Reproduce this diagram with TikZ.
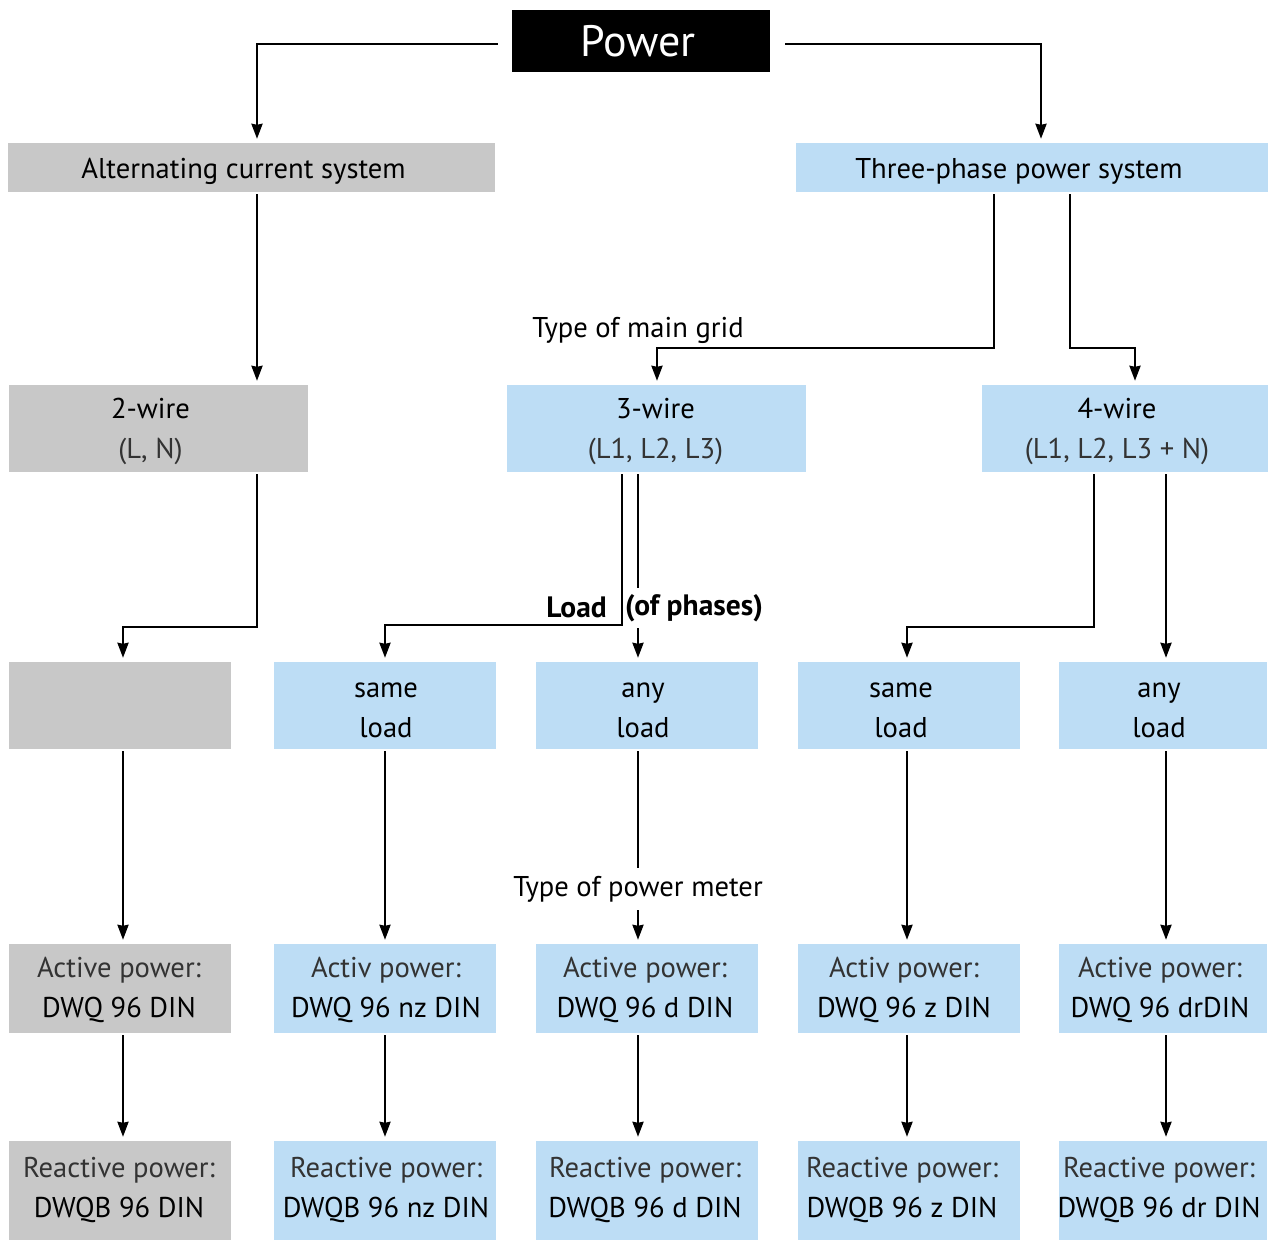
\documentclass[tikz,border=0pt]{standalone}
\usepackage{fontspec}
\setmainfont{PT Sans}
\usetikzlibrary{arrows.meta}
\definecolor{gbox}{RGB}{200,200,200}
\definecolor{bbox}{RGB}{189,221,245}
% text placed in a box, moved by (#1 right, #2 up) without changing the box size
\newcommand\bxt[3]{\raisebox{#2}[\height][\depth]{\makebox[0pt]{\hspace*{#1}\hspace*{#1}\begin{tabular}{@{}c@{}}#3\end{tabular}}}}
\newcommand\lite[1]{{\color{black!80}#1}}
\begin{document}
\begin{tikzpicture}[x=1pt,y=-1pt,
  box/.style={rectangle,inner sep=0pt,align=center,font=\fontsize{28.6}{40}\selectfont},
  gray/.style={box,fill=gbox},
  blue/.style={box,fill=bbox},
  arr/.style={line width=2.4pt,-{Stealth[length=15pt,width=11pt,inset=1pt]},shorten >=4pt,shorten <=2pt},
  lbl/.style={font=\fontsize{28.6}{35}\selectfont,inner sep=0pt}]
\useasboundingbox (0,0) rectangle (1272,1242);
% top
\node[box,fill=black,text=white,minimum width=258pt,minimum height=62pt,font=\fontsize{44}{50}\selectfont] (power) at (641,41) {\bxt{-3pt}{-5pt}{Power}};
\node[gray,minimum width=487pt,minimum height=49pt] (alt) at (251.5,167.5) {\bxt{-8pt}{-3pt}{Alternating current system}};
\node[blue,minimum width=472pt,minimum height=49pt] (three) at (1032,167.5) {\bxt{-13pt}{-3pt}{Three-phase power system}};
% wires
\node[gray,minimum width=299pt,minimum height=87pt] (w2) at (158.5,428.5) {\bxt{-8pt}{-2pt}{2-wire\\\lite{(L, N)}}};
\node[blue,minimum width=299pt,minimum height=87pt] (w3) at (656.5,428.5) {\bxt{-1pt}{-2pt}{3-wire\\\lite{(L1, L2, L3)}}};
\node[blue,minimum width=286pt,minimum height=87pt] (w4) at (1125,428.5) {\bxt{-8pt}{-2pt}{4-wire\\\lite{(L1, L2, L3 + N)}}};
% loads
\node[gray,minimum width=222pt,minimum height=87pt] (a) at (120,705.5) {};
\node[blue,minimum width=222pt,minimum height=87pt] (b) at (385,705.5) {\bxt{1pt}{-4pt}{same\\load}};
\node[blue,minimum width=222pt,minimum height=87pt] (c) at (647,705.5) {\bxt{-4pt}{-4pt}{any\\load}};
\node[blue,minimum width=222pt,minimum height=87pt] (d) at (909,705.5) {\bxt{-8pt}{-4pt}{same\\load}};
\node[blue,minimum width=208pt,minimum height=87pt] (e) at (1163,705.5) {\bxt{-4pt}{-4pt}{any\\load}};
% active
\node[gray,minimum width=222pt,minimum height=89pt] (a4) at (120,988.5) {\bxt{-1pt}{-1pt}{\lite{Active power:}\\DWQ 96 DIN}};
\node[blue,minimum width=222pt,minimum height=89pt] (b4) at (385,988.5) {\bxt{1pt}{-1pt}{\lite{Activ power:}\\DWQ 96 nz DIN}};
\node[blue,minimum width=222pt,minimum height=89pt] (c4) at (647,988.5) {\bxt{-2pt}{-1pt}{\lite{Active power:}\\DWQ 96 d DIN}};
\node[blue,minimum width=222pt,minimum height=89pt] (d4) at (909,988.5) {\bxt{-5pt}{-1pt}{\lite{Activ power:}\\DWQ 96 z DIN}};
\node[blue,minimum width=208pt,minimum height=89pt] (e4) at (1163,988.5) {\bxt{-3pt}{-1pt}{\lite{Active power:}\\DWQ 96 drDIN}};
% reactive
\node[gray,minimum width=222pt,minimum height=99pt] (a5) at (120,1190.5) {\bxt{-1pt}{1pt}{\lite{Reactive power:}\\DWQB 96 DIN}};
\node[blue,minimum width=222pt,minimum height=99pt] (b5) at (385,1190.5) {\bxt{1pt}{1pt}{\lite{Reactive power:}\\DWQB 96 nz DIN}};
\node[blue,minimum width=222pt,minimum height=99pt] (c5) at (647,1190.5) {\bxt{-2pt}{1pt}{\lite{Reactive power:}\\DWQB 96 d DIN}};
\node[blue,minimum width=222pt,minimum height=99pt] (d5) at (909,1190.5) {\bxt{-7pt}{1pt}{\lite{Reactive power:}\\DWQB 96 z DIN}};
\node[blue,minimum width=208pt,minimum height=99pt] (e5) at (1163,1190.5) {\bxt{-4pt}{1pt}{\lite{Reactive power:}\\DWQB 96 dr DIN}};
% connectors top
\draw[arr] ([xshift=-12pt,yshift=-3pt]power.west) -| ([xshift=5.5pt]alt.north);
\draw[arr] ([xshift=13pt,yshift=-3pt]power.east) -| ([xshift=9pt]three.north);
\draw[arr] ([xshift=5.5pt]alt.south) -- ([xshift=5.5pt]alt.south |- w2.north);
\draw[arr] ([xshift=-38pt]three.south) -- ++(0,156) -| ([xshift=0.5pt]w3.north);
\draw[arr] ([xshift=38pt]three.south) -- ++(0,156) -| ([xshift=10pt]w4.north);
\node[lbl] (tmg) at (638,330) {Type of main grid};
% wires to loads
\draw[arr] ([xshift=98.5pt]w2.south) -- ++(0,155) -| ([xshift=3pt]a.north);
\draw[arr] ([xshift=-34.5pt]w3.south) -- ++(0,153) -| (b.north);
\draw[arr] ([xshift=-18.5pt]w3.south) -- ([xshift=-9pt]c.north);
\draw[arr] ([xshift=-31pt]w4.south) -- ++(0,155) -| ([xshift=-2pt]d.north);
\draw[arr] ([xshift=41pt]w4.south) -- ([xshift=3pt]e.north);
\node[lbl,font=\fontsize{29.5}{35}\selectfont\bfseries,fill=white,inner ysep=5pt,anchor=east] (ld) at (607,607) {Load};
\node[lbl,font=\fontsize{29.5}{35}\selectfont\bfseries,fill=white,inner ysep=6pt,anchor=west] (ph) at (625,608) {(of phases)};
% loads to active
\draw[arr] ([xshift=3pt]a.south) -- ([xshift=3pt]a4.north);
\draw[arr] (b.south) -- (b4.north);
\draw[arr] ([xshift=-9pt]c.south) -- ([xshift=-9pt]c4.north);
\draw[arr] ([xshift=-2pt]d.south) -- ([xshift=-2pt]d4.north);
\draw[arr] ([xshift=3pt]e.south) -- ([xshift=3pt]e4.north);
\node[lbl,fill=white,inner ysep=8pt,inner xsep=1pt] (tpm) at (638,889) {Type of power meter};
% active to reactive
\draw[arr] ([xshift=3pt]a4.south) -- ([xshift=3pt]a5.north);
\draw[arr] (b4.south) -- (b5.north);
\draw[arr] ([xshift=-9pt]c4.south) -- ([xshift=-9pt]c5.north);
\draw[arr] ([xshift=-2pt]d4.south) -- ([xshift=-2pt]d5.north);
\draw[arr] ([xshift=3pt]e4.south) -- ([xshift=3pt]e5.north);
\end{tikzpicture}
\end{document}
